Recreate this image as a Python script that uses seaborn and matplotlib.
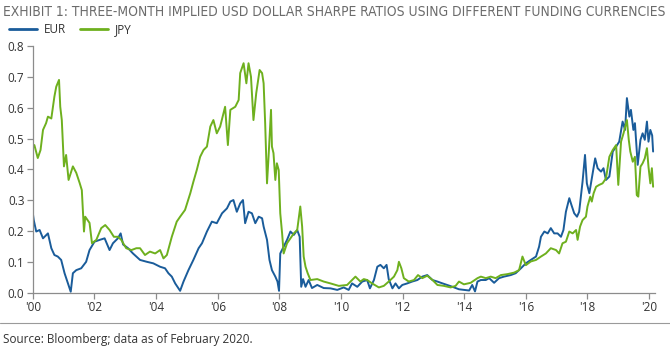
import pandas as pd
import matplotlib
matplotlib.use('Agg')
import matplotlib.pyplot as plt
import seaborn as sns

# data (decimal year, sharpe ratio)
eur_year = [2000.0, 2000.03, 2000.11, 2000.22, 2000.33, 2000.49, 2000.6, 2000.7, 2000.81, 2000.92,
            2001.03, 2001.14, 2001.23, 2001.3, 2001.41, 2001.57, 2001.73, 2001.84, 2002.0, 2002.17,
            2002.33, 2002.49, 2002.6, 2002.76, 2002.85, 2002.93, 2003.09, 2003.25, 2003.36, 2003.48,
            2003.7, 2003.91, 2004.13, 2004.29, 2004.4, 2004.51, 2004.62, 2004.78, 2004.89, 2005.05,
            2005.21, 2005.38, 2005.49, 2005.65, 2005.81, 2005.97, 2006.14, 2006.3, 2006.41, 2006.51,
            2006.62, 2006.73, 2006.82, 2006.89, 2007.0, 2007.11, 2007.22, 2007.33, 2007.44, 2007.49,
            2007.6, 2007.68, 2007.76, 2007.87, 2007.94, 2007.99, 2008.03, 2008.14, 2008.25, 2008.36,
            2008.47, 2008.58, 2008.66, 2008.71, 2008.77, 2008.85, 2008.95, 2009.06, 2009.23, 2009.44,
            2009.66, 2009.88, 2010.09, 2010.25, 2010.36, 2010.53, 2010.69, 2010.85, 2010.94, 2011.07,
            2011.18, 2011.28, 2011.39, 2011.48, 2011.55, 2011.67, 2011.77, 2011.88, 2011.99, 2012.15,
            2012.31, 2012.48, 2012.64, 2012.8, 2012.97, 2013.13, 2013.24, 2013.45, 2013.62, 2013.83,
            2013.99, 2014.16, 2014.26, 2014.35, 2014.43, 2014.54, 2014.7, 2014.81, 2014.97, 2015.13,
            2015.29, 2015.51, 2015.67, 2015.84, 2016.0, 2016.16, 2016.33, 2016.43, 2016.49, 2016.6,
            2016.71, 2016.81, 2016.92, 2017.03, 2017.14, 2017.22, 2017.3, 2017.41, 2017.48, 2017.57,
            2017.66, 2017.73, 2017.84, 2017.92, 2017.98, 2018.06, 2018.17, 2018.25, 2018.33, 2018.44,
            2018.52, 2018.6, 2018.71, 2018.82, 2018.93, 2019.03, 2019.14, 2019.22, 2019.28, 2019.36,
            2019.41, 2019.49, 2019.54, 2019.63, 2019.72, 2019.79, 2019.86, 2019.93, 2019.98, 2020.04,
            2020.1, 2020.13]
eur_val = [0.258, 0.236, 0.199, 0.204, 0.177, 0.193, 0.145, 0.123, 0.118, 0.107,
           0.064, 0.031, 0.004, 0.064, 0.074, 0.080, 0.101, 0.139, 0.166, 0.172,
           0.177, 0.139, 0.161, 0.177, 0.193, 0.157, 0.145, 0.128, 0.118, 0.107,
           0.101, 0.096, 0.085, 0.080, 0.064, 0.053, 0.031, 0.007, 0.037, 0.074,
           0.107, 0.145, 0.161, 0.199, 0.231, 0.226, 0.258, 0.274, 0.296, 0.301,
           0.263, 0.290, 0.301, 0.226, 0.263, 0.258, 0.226, 0.247, 0.242, 0.215,
           0.172, 0.107, 0.074, 0.053, 0.037, 0.007, 0.128, 0.150, 0.172, 0.199,
           0.188, 0.204, 0.182, 0.020, 0.045, 0.020, 0.042, 0.016, 0.026, 0.016,
           0.015, 0.010, 0.018, 0.010, 0.031, 0.020, 0.037, 0.042, 0.015, 0.042,
           0.085, 0.091, 0.080, 0.091, 0.045, 0.015, 0.031, 0.015, 0.026, 0.031,
           0.037, 0.042, 0.053, 0.058, 0.042, 0.037, 0.033, 0.026, 0.020, 0.012,
           0.010, 0.008, 0.026, 0.005, 0.037, 0.042, 0.042, 0.048, 0.033, 0.048,
           0.053, 0.058, 0.064, 0.080, 0.096, 0.107, 0.118, 0.150, 0.182, 0.199,
           0.193, 0.210, 0.193, 0.193, 0.182, 0.204, 0.263, 0.307, 0.285, 0.258,
           0.247, 0.263, 0.360, 0.447, 0.355, 0.323, 0.388, 0.436, 0.404, 0.393,
           0.404, 0.366, 0.377, 0.458, 0.474, 0.490, 0.555, 0.528, 0.631, 0.571,
           0.593, 0.528, 0.550, 0.415, 0.496, 0.517, 0.496, 0.555, 0.490, 0.528,
           0.510, 0.458]

jpy_year = [2000.0, 2000.05, 2000.16, 2000.25, 2000.33, 2000.43, 2000.49, 2000.6, 2000.7, 2000.76,
            2000.85, 2000.89, 2000.94, 2001.01, 2001.08, 2001.16, 2001.3, 2001.41, 2001.52, 2001.59,
            2001.66, 2001.7, 2001.84, 2001.92, 2002.06, 2002.22, 2002.35, 2002.49, 2002.63, 2002.76,
            2002.87, 2003.03, 2003.2, 2003.36, 2003.48, 2003.64, 2003.8, 2003.97, 2004.13, 2004.24,
            2004.35, 2004.51, 2004.67, 2004.78, 2004.94, 2005.11, 2005.21, 2005.32, 2005.43, 2005.54,
            2005.65, 2005.76, 2005.86, 2005.97, 2006.08, 2006.24, 2006.33, 2006.41, 2006.57, 2006.68,
            2006.73, 2006.84, 2006.93, 2007.0, 2007.08, 2007.16, 2007.25, 2007.36, 2007.44, 2007.49,
            2007.54, 2007.6, 2007.65, 2007.73, 2007.76, 2007.81, 2007.87, 2007.92, 2007.98, 2008.03,
            2008.09, 2008.14, 2008.25, 2008.36, 2008.47, 2008.58, 2008.68, 2008.74, 2008.79, 2008.85,
            2008.92, 2009.01, 2009.23, 2009.44, 2009.66, 2009.93, 2010.2, 2010.36, 2010.47, 2010.63,
            2010.74, 2010.85, 2011.01, 2011.23, 2011.39, 2011.55, 2011.72, 2011.83, 2011.88, 2011.96,
            2012.04, 2012.2, 2012.37, 2012.5, 2012.64, 2012.8, 2012.97, 2013.13, 2013.34, 2013.56,
            2013.72, 2013.83, 2013.99, 2014.21, 2014.43, 2014.54, 2014.7, 2014.86, 2015.02, 2015.19,
            2015.4, 2015.62, 2015.78, 2015.89, 2016.0, 2016.16, 2016.33, 2016.49, 2016.65, 2016.81,
            2016.98, 2017.08, 2017.19, 2017.3, 2017.41, 2017.52, 2017.63, 2017.68, 2017.76, 2017.84,
            2017.95, 2018.0, 2018.09, 2018.14, 2018.2, 2018.28, 2018.38, 2018.49, 2018.6, 2018.71,
            2018.82, 2018.93, 2019.0, 2019.09, 2019.17, 2019.28, 2019.34, 2019.39, 2019.47, 2019.54,
            2019.6, 2019.65, 2019.72, 2019.79, 2019.86, 2019.93, 2019.98, 2020.04, 2020.09, 2020.13]
jpy_val = [0.469, 0.479, 0.437, 0.463, 0.528, 0.550, 0.571, 0.565, 0.636, 0.668,
           0.690, 0.603, 0.560, 0.410, 0.447, 0.366, 0.410, 0.389, 0.356, 0.333,
           0.199, 0.247, 0.227, 0.161, 0.172, 0.210, 0.220, 0.204, 0.182, 0.182,
           0.172, 0.145, 0.139, 0.145, 0.145, 0.123, 0.134, 0.128, 0.139, 0.112,
           0.123, 0.182, 0.231, 0.247, 0.269, 0.323, 0.360, 0.398, 0.441, 0.463,
           0.474, 0.539, 0.560, 0.517, 0.539, 0.603, 0.479, 0.593, 0.603, 0.625,
           0.712, 0.744, 0.679, 0.744, 0.700, 0.560, 0.647, 0.722, 0.712, 0.679,
           0.550, 0.355, 0.441, 0.593, 0.474, 0.453, 0.366, 0.420, 0.398, 0.258,
           0.193, 0.128, 0.161, 0.177, 0.193, 0.204, 0.280, 0.215, 0.118, 0.085,
           0.064, 0.042, 0.045, 0.037, 0.031, 0.023, 0.026, 0.042, 0.053, 0.037,
           0.045, 0.042, 0.031, 0.018, 0.023, 0.037, 0.053, 0.074, 0.101, 0.080,
           0.048, 0.037, 0.042, 0.058, 0.048, 0.056, 0.042, 0.026, 0.023, 0.018,
           0.023, 0.037, 0.028, 0.033, 0.048, 0.053, 0.048, 0.053, 0.048, 0.058,
           0.061, 0.066, 0.074, 0.118, 0.090, 0.102, 0.107, 0.118, 0.128, 0.145,
           0.139, 0.128, 0.161, 0.166, 0.199, 0.193, 0.204, 0.172, 0.215, 0.236,
           0.247, 0.280, 0.312, 0.296, 0.323, 0.344, 0.350, 0.355, 0.371, 0.441,
           0.463, 0.479, 0.350, 0.490, 0.517, 0.560, 0.496, 0.458, 0.425, 0.441,
           0.317, 0.312, 0.409, 0.420, 0.436, 0.469, 0.409, 0.355, 0.404, 0.344]

series_names = ['EUR', 'JPY']
colors = {'EUR': '#1a5c9a', 'JPY': '#6eb01e'}
tick_years = list(range(2000, 2021, 2))
tick_labels = ["'%02d" % (y % 100) for y in tick_years]

title = 'EXHIBIT 1: THREE-MONTH IMPLIED USD DOLLAR SHARPE RATIOS USING DIFFERENT FUNDING CURRENCIES'
source = 'Source: Bloomberg; data as of February 2020.'

df = pd.concat([
    pd.DataFrame({'year': eur_year, 'value': eur_val, 'currency': 'EUR'}),
    pd.DataFrame({'year': jpy_year, 'value': jpy_val, 'currency': 'JPY'}),
])

sns.set_style('white')
plt.rcParams['font.family'] = ['Open Sans', 'DejaVu Sans']

fig = plt.figure(figsize=(6.7, 3.56), dpi=100)
ax = fig.add_axes([0.049, 0.177, 0.929, 0.694])

sns.lineplot(data=df, x='year', y='value', hue='currency', palette=colors,
             hue_order=series_names, linewidth=1.4, legend=False, ax=ax)

ax.set_xlim(2000, 2020.2)
ax.set_ylim(0, 0.8)
ax.set_xticks(tick_years)
ax.set_xticklabels(tick_labels)
ax.set_yticks([0, 0.1, 0.2, 0.3, 0.4, 0.5, 0.6, 0.7, 0.8])
ax.set_yticklabels(['%.1f' % v for v in ax.get_yticks()])
ax.set_xlabel('')
ax.set_ylabel('')
sns.despine(ax=ax)
for s in ['left', 'bottom']:
    ax.spines[s].set_color('#8c8c8c')
    ax.spines[s].set_linewidth(0.9)
ax.tick_params(axis='both', which='both', length=4, width=0.9, color='#8c8c8c',
               labelsize=8.5, labelcolor='#333333', pad=2)
ax.tick_params(axis='x', direction='out', bottom=True)
ax.tick_params(axis='y', direction='out', left=True)

# title: squeeze to the width the reference uses (condensed look)
t = fig.text(0.005, 0.965, title, fontsize=10, color='#6b6b6b', va='center', ha='left',
             family=['DejaVu Sans'], fontstretch='condensed')
fig.canvas.draw()
w = t.get_window_extent().width
t.set_fontsize(10 * 660.0 / w)

handles = [plt.Line2D([], [], color=colors[n], lw=2.0) for n in series_names]
fig.legend(handles, series_names, loc='center left', bbox_to_anchor=(-0.003, 0.918), ncol=2,
           frameon=False, fontsize=8.5, handlelength=2.4, columnspacing=1.2,
           handletextpad=0.55, labelcolor='#333333')
fig.add_artist(plt.Line2D([0, 1], [0.093, 0.093], color='#9a9a9a', lw=0.8))
fig.text(0.004, 0.045, source, fontsize=8.5, color='#333333', va='center', ha='left')

fig.savefig('out.png', dpi=100)
